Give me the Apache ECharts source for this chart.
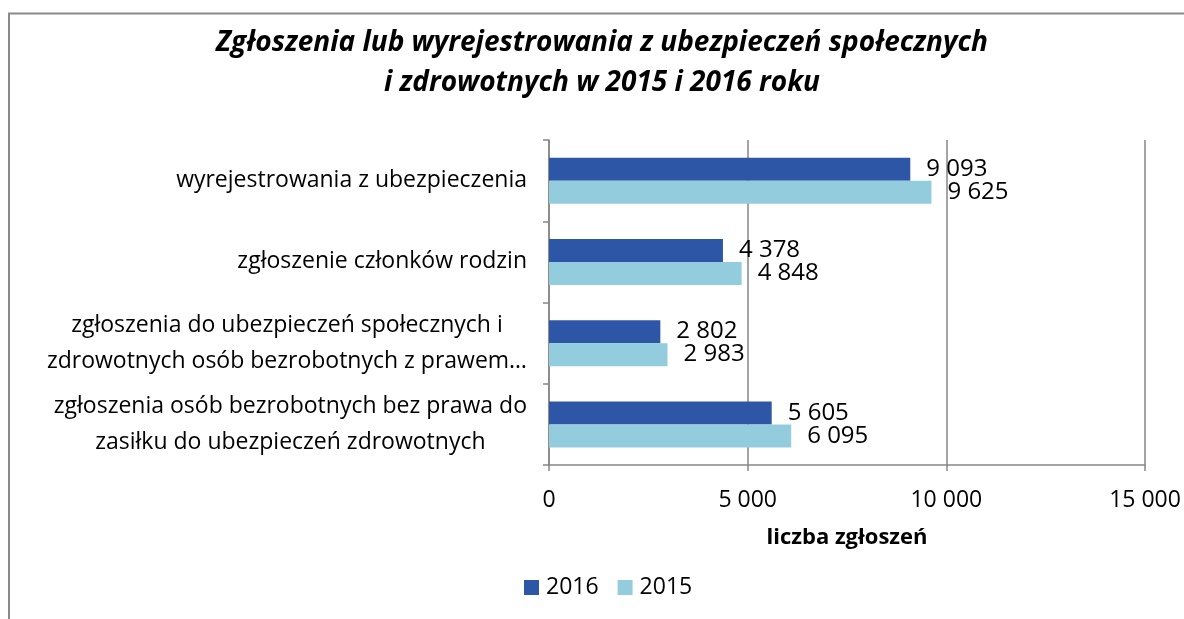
<!DOCTYPE html>
<html>
<head>
<meta charset="utf-8">
<script src="https://cdn.jsdelivr.net/npm/echarts@6/dist/echarts.min.js"></script>
<style>
  html, body { margin: 0; padding: 0; background: #fff; }
  #view { width: 1184px; height: 619px; }
</style>
</head>
<body>
<div id="view"></div>
<script>
var categories = [
    'wyrejestrowania z ubezpieczenia',
    'zgłoszenie członków rodzin',
    'zgłoszenia do ubezpieczeń społecznych i\nzdrowotnych osób bezrobotnych z prawem…',
    'zgłoszenia osób bezrobotnych bez prawa do\nzasiłku do ubezpieczeń zdrowotnych'
];
var values2016 = [9093, 4378, 2802, 5605];
var values2015 = [9625, 4848, 2983, 6095];
var xTicks = [0, 5000, 10000, 15000];

var font = 'Open Sans';
var myChart = echarts.init(document.getElementById('view'));

function fmt(v) {
    return String(v).replace(/\B(?=(\d{3})+(?!\d))/g, ' ');
}

var option = {
    animation: false,
    textStyle: { fontFamily: font },
    title: {
        text: 'Zgłoszenia lub wyrejestrowania z ubezpieczeń społecznych\ni zdrowotnych w 2015 i 2016 roku',
        left: 597,
        top: 18,
        textAlign: 'center',
        textStyle: {
            fontFamily: font,
            fontSize: 28,
            fontWeight: 'bold',
            fontStyle: 'italic',
            color: '#000',
            lineHeight: 40,
            align: 'center'
        }
    },
    graphic: [{
        type: 'rect',
        shape: { x: 9, y: 13.5, width: 1250, height: 700 },
        style: { fill: 'none', stroke: '#8a8a8a', lineWidth: 2 },
        silent: true
    }],
    legend: {
        left: 519,
        top: 571,
        itemWidth: 15,
        itemHeight: 15,
        itemGap: 19,
        icon: 'rect',
        data: ['2016', '2015'],
        textStyle: { fontSize: 23, color: '#000', fontFamily: font, padding: [0, 0, 0, 2] }
    },
    grid: { left: 549, right: 39, top: 140, bottom: 154 },
    xAxis: {
        type: 'value',
        min: xTicks[0],
        max: xTicks[xTicks.length - 1],
        interval: 5000,
        name: 'liczba zgłoszeń',
        nameLocation: 'middle',
        nameGap: 62,
        nameTextStyle: { fontSize: 22, fontWeight: 'bold', color: '#000', fontFamily: font },
        axisLine: { show: true, lineStyle: { color: '#868686', width: 1.5 } },
        axisTick: { show: true, length: 6, lineStyle: { color: '#868686', width: 1.5 } },
        axisLabel: { fontSize: 23, color: '#000', margin: 24, formatter: fmt },
        splitLine: { show: true, lineStyle: { color: '#868686', width: 1.5 } }
    },
    yAxis: {
        type: 'category',
        inverse: true,
        data: categories,
        axisLine: { show: true, lineStyle: { color: '#868686', width: 1.5 } },
        axisTick: { show: true, length: 6, lineStyle: { color: '#868686', width: 1.5 } },
        axisLabel: {
            fontSize: 23,
            color: '#000',
            margin: 22,
            lineHeight: 36,
            formatter: function (v) {
                return v.split('\n').map(function (l) { return '{c|' + l + '}'; }).join('\n');
            },
            rich: { c: { align: 'center', fontSize: 23, color: '#000', lineHeight: 36, fontFamily: font } }
        }
    },
    series: [
        {
            name: '2016',
            type: 'bar',
            data: values2016,
            barWidth: 23,
            barGap: '0%',
            itemStyle: { color: '#2e56a6' },
            label: { show: true, position: 'right', distance: 16, fontSize: 24, color: '#000', formatter: function (p) { return fmt(p.value); } }
        },
        {
            name: '2015',
            type: 'bar',
            data: values2015,
            barWidth: 23,
            barGap: '0%',
            itemStyle: { color: '#93cddd' },
            label: { show: true, position: 'right', distance: 16, fontSize: 24, color: '#000', formatter: function (p) { return fmt(p.value); } }
        }
    ]
};

myChart.setOption(option);
</script>
</body>
</html>
